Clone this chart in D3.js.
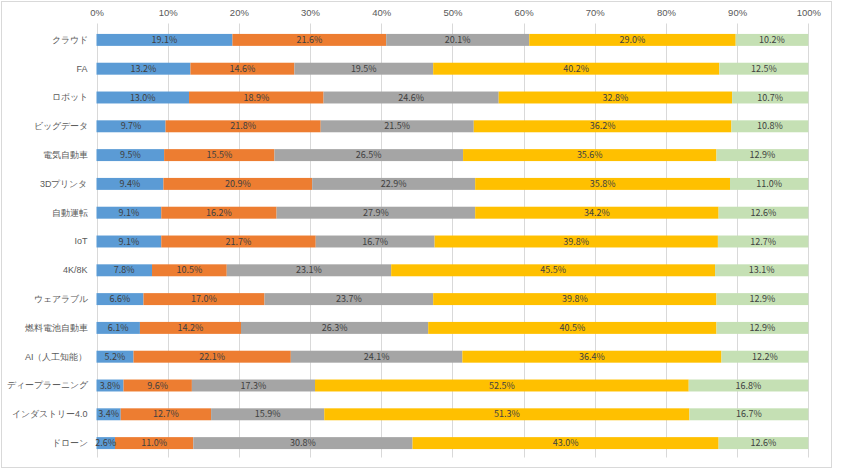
<!DOCTYPE html>
<html><head><meta charset="utf-8">
<script src="https://cdn.jsdelivr.net/npm/d3@7"></script>
<style>
body{margin:0;background:#fff;}
svg{display:block;font-family:"Noto Sans CJK JP","Noto Sans",sans-serif;}
</style></head>
<body>
<svg id="chart" width="850" height="470"></svg>
<script>
const categories = ["クラウド","FA","ロボット","ビッグデータ","電気自動車","3Dプリンタ","自動運転","IoT","4K/8K","ウェアラブル","燃料電池自動車","AI（人工知能）","ディープラーニング","インダストリー4.0","ドローン"];
const series1 = [19.1,13.2,13.0,9.7,9.5,9.4,9.1,9.1,7.8,6.6,6.1,5.2,3.8,3.4,2.6];
const series2 = [21.6,14.6,18.9,21.8,15.5,20.9,16.2,21.7,10.5,17.0,14.2,22.1,9.6,12.7,11.0];
const series3 = [20.1,19.5,24.6,21.5,26.5,22.9,27.9,16.7,23.1,23.7,26.3,24.1,17.3,15.9,30.8];
const series4 = [29.0,40.2,32.8,36.2,35.6,35.8,34.2,39.8,45.5,39.8,40.5,36.4,52.5,51.3,43.0];
const series5 = [10.2,12.5,10.7,10.8,12.9,11.0,12.6,12.7,13.1,12.9,12.9,12.2,16.8,16.7,12.6];
const seriesKeys = ["s1","s2","s3","s4","s5"];
const seriesColors = ["#5B9BD5","#ED7D31","#A5A5A5","#FFC000","#C5E0B4"];
const tickValues = [0,10,20,30,40,50,60,70,80,90,100];

const rows = categories.map((c,i)=>({cat:c,s1:series1[i],s2:series2[i],s3:series3[i],s4:series4[i],s5:series5[i]}));
const stacked = d3.stack().keys(seriesKeys)(rows);

const svg = d3.select("#chart");
svg.append("rect").attr("x",1.5).attr("y",1.5).attr("width",830).attr("height",466)
  .attr("fill","#fff").attr("stroke","#d9d9d9").attr("stroke-width",1);

const pLeft=96.5, pRight=808.3, pTop=25.5, pBottom=457.5;
const x = d3.scaleLinear().domain([0,100]).range([pLeft,pRight]);
const y = d3.scaleBand().domain(categories).range([pTop,pBottom]).paddingInner(0.585).paddingOuter(0.2925);

// gridlines
svg.append("g").selectAll("line").data(tickValues).join("line")
  .attr("x1",d=>Math.round(x(d))+0.5).attr("x2",d=>Math.round(x(d))+0.5)
  .attr("y1",pTop-2).attr("y2",pBottom)
  .attr("stroke","#d9d9d9").attr("stroke-width",1);

// top axis
const axis = d3.axisTop(x).tickValues(tickValues).tickFormat(d=>d+"%").tickSize(0).tickPadding(0);
const ax = svg.append("g").attr("transform",`translate(0,${16})`).call(axis);
ax.select(".domain").remove();
ax.selectAll("text").attr("fill","#595959").attr("font-size","9.5px").attr("dy","0");

// left axis
const yAxis = d3.axisLeft(y).tickSize(0).tickPadding(9);
const ay = svg.append("g").attr("transform",`translate(${pLeft},0)`).call(yAxis);
ay.select(".domain").remove();
ay.selectAll("text").attr("fill","#595959").attr("font-size","9px");

// bars
const g = svg.append("g");
stacked.forEach((layer,si)=>{
  const lg = g.append("g").attr("fill",seriesColors[si]);
  lg.selectAll("rect").data(layer).join("rect")
    .attr("x",d=>x(d[0])).attr("width",d=>x(d[1])-x(d[0]))
    .attr("y",d=>y(d.data.cat)).attr("height",y.bandwidth());
});
stacked.forEach((layer,si)=>{
  g.append("g").selectAll("text").data(layer).join("text")
    .attr("x",d=>(x(d[0])+x(d[1]))/2)
    .attr("y",d=>y(d.data.cat)+y.bandwidth()/2)
    .attr("dy","0.35em").attr("text-anchor","middle")
    .attr("font-size","9px").attr("fill","#404040")
    .text(d=>d3.format(".1f")(d[1]-d[0])+"%");
});
</script>
</body></html>
